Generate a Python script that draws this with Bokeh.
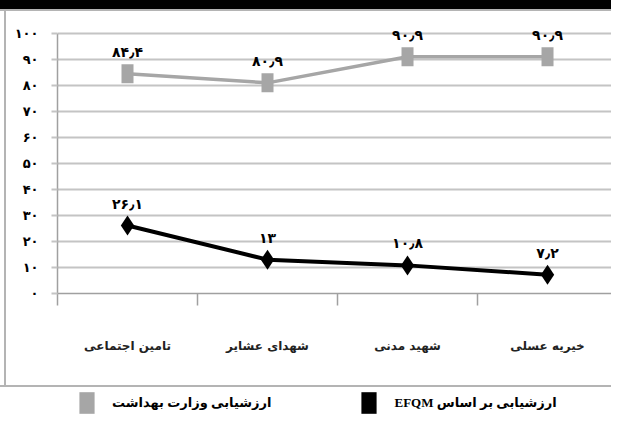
from bokeh.plotting import figure
from bokeh.layouts import column
from bokeh.models import Range1d, FixedTicker, Legend, LegendItem
from bokeh.core.properties import value
from bokeh.embed import file_html
from bokeh.resources import INLINE

# ---- data (left to right as drawn) ----
categories = ["تامین اجتماعی", "شهدای عشایر", "شهید مدنی", "خیریه عسلی"]
ministry = [84.4, 80.9, 90.9, 90.9]
efqm = [26.1, 13, 10.8, 7.2]
y_ticks = [0, 10, 20, 30, 40, 50, 60, 70, 80, 90, 100]
name_ministry = "ارزشیابی وزارت بهداشت"
name_efqm = "ارزشیابی بر اساس EFQM"

PERSIAN = str.maketrans("0123456789.", "۰۱۲۳۴۵۶۷۸۹٫")


def fa(v):
    return f"{v:g}".translate(PERSIAN)


def rtl(s):
    return "\u202b" + s + "\u202c"


xs = [i + 0.5 for i in range(len(categories))]
FONT = "DejaVu Sans"
GRID = "#c4c4c4"
AXIS = "#a0a0a0"
GRAY = "#a6a6a6"
BOX = "#b4b4b4"

box_css = (
    "linear-gradient(#000,#000) 0 0/100% 9px no-repeat, "
    f"linear-gradient({BOX},{BOX}) 0 9px/100% 2px no-repeat, "
    f"linear-gradient({BOX},{BOX}) 4px 9px/2px 100% no-repeat, "
    f"linear-gradient({BOX},{BOX}) 0 100%/100% 2px no-repeat, #ffffff"
)

p = figure(width=611, height=387, x_range=Range1d(0, 3.957),
           y_range=Range1d(0, 106), output_backend="svg", toolbar_location=None,
           min_border_left=57, min_border_right=0, min_border_top=17,
           min_border_bottom=94, styles={"background": box_css})
p.outline_line_color = None
p.background_fill_color = None
p.border_fill_color = None

# grid / axes
p.xgrid.visible = False
p.ygrid.ticker = FixedTicker(ticks=y_ticks)
p.ygrid.grid_line_color = GRID
p.ygrid.grid_line_width = 2

p.yaxis.ticker = FixedTicker(ticks=y_ticks)
p.yaxis.bounds = (0, 100)
p.yaxis.major_label_overrides = {t: fa(t) for t in y_ticks}
p.yaxis.major_label_text_font = FONT
p.yaxis.major_label_text_font_size = "13px"
p.yaxis.major_label_text_font_style = "bold"
p.yaxis.major_label_text_color = "black"
p.yaxis.major_label_standoff = 13
p.yaxis.major_tick_out = 6
p.yaxis.major_tick_in = 0
p.yaxis.minor_tick_line_color = None
p.yaxis.major_tick_line_color = GRID
p.yaxis.major_tick_line_width = 2
p.yaxis.axis_line_color = AXIS
p.yaxis.axis_line_width = 1.5

p.xaxis.ticker = FixedTicker(ticks=xs, minor_ticks=list(range(len(categories) + 1)))
p.xaxis.major_label_overrides = {x: c for x, c in zip(xs, categories)}
p.xaxis.major_label_text_font = FONT
p.xaxis.major_label_text_font_size = "12px"
p.xaxis.major_label_text_font_style = "bold"
p.xaxis.major_label_text_color = "#222222"
p.xaxis.major_label_standoff = 33
p.xaxis.major_tick_line_color = None
p.xaxis.major_tick_out = 0
p.xaxis.major_tick_in = 0
p.xaxis.minor_tick_out = 12
p.xaxis.minor_tick_in = 0
p.xaxis.minor_tick_line_color = AXIS
p.xaxis.minor_tick_line_width = 1.5
p.xaxis.axis_line_color = AXIS
p.xaxis.axis_line_width = 1.5

# series: ministry (gray)
p.line(xs, ministry, line_color=GRAY, line_width=3.5)
p.rect(xs, ministry, width=12, height=19, width_units="screen",
       height_units="screen", fill_color=GRAY, line_color=None)
p.text(xs, ministry, text=[fa(v) for v in ministry], text_font=value(FONT),
       text_font_size="14px", text_font_style="bold", text_align="center",
       text_baseline="middle", y_offset=-22, text_color="black")

# series: EFQM (black)
p.line(xs, efqm, line_color="black", line_width=4)
p.scatter(xs, efqm, marker="diamond", size=20, fill_color="black", line_color=None)
p.text(xs, efqm, text=[fa(v) for v in efqm], text_font=value(FONT),
       text_font_size="14px", text_font_style="bold", text_align="center",
       text_baseline="middle", y_offset=-22, text_color="black")

# ---- legend strip below the chart box ----
q = figure(width=611, height=29, x_range=Range1d(0, 1), y_range=Range1d(0, 1),
           output_backend="svg", toolbar_location=None,
           x_axis_location=None, y_axis_location=None,
           min_border=0, min_border_left=0, min_border_right=0,
           min_border_top=0, min_border_bottom=0)
q.grid.visible = False
q.outline_line_color = None
q.background_fill_color = "white"
q.border_fill_color = "white"
lg_min = q.rect(xs, ministry, width=0, height=0, width_units="screen",
                height_units="screen", fill_color=GRAY, line_color=None)
lg_efqm = q.rect(xs, efqm, width=0, height=0, width_units="screen",
                 height_units="screen", fill_color="black", line_color=None)

legend = Legend(items=[LegendItem(label=rtl(name_ministry), renderers=[lg_min]),
                       LegendItem(label=rtl(name_efqm), renderers=[lg_efqm])],
                orientation="horizontal", location=(20, 0),
                padding=0, margin=0, spacing=88, label_width=152,
                glyph_width=19, glyph_height=27, label_standoff=16,
                border_line_color=None, background_fill_alpha=0)
legend.label_text_font = "Liberation Serif, DejaVu Sans"
legend.label_text_font_size = "13px"
legend.label_text_font_style = "bold"
legend.label_text_color = "black"
q.add_layout(legend)

page = column(p, q, spacing=0)
open("out.html", "w").write(file_html(page, INLINE))
